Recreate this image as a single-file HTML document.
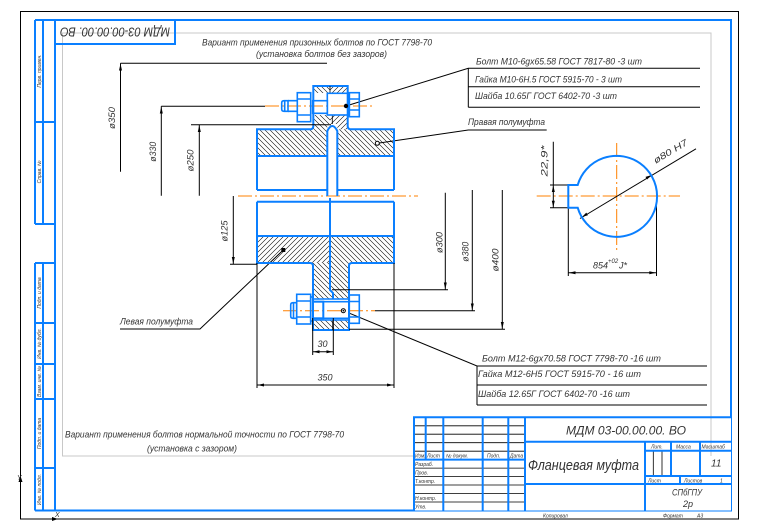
<!DOCTYPE html>
<html><head><meta charset="utf-8">
<style>
html,body{margin:0;padding:0;background:#fff;}
svg{display:block;}
text{font-family:"Liberation Sans",sans-serif;font-style:italic;fill:#333;}
</style></head><body>
<svg width="761" height="525" viewBox="0 0 761 525" xmlns="http://www.w3.org/2000/svg">
<defs>
<pattern id="hb" width="5" height="5" patternUnits="userSpaceOnUse">
<path d="M0,0 L5,5 M-1,4 L1,6 M4,-1 L6,1" stroke="#000" stroke-width="0.55"/>
</pattern>
<pattern id="hf" width="5" height="5" patternUnits="userSpaceOnUse">
<path d="M0,5 L5,0 M-1,1 L1,-1 M4,6 L6,4" stroke="#000" stroke-width="0.55"/>
</pattern>
</defs>
<rect width="761" height="525" fill="#fff"/>

<!-- gray inner frame -->
<rect x="62.5" y="33" width="648.5" height="423" fill="none" stroke="#c8c8c8" stroke-width="1"/>
<!-- outer black frame -->
<path d="M20.5,11.5 H738.5 V519 H20.5 Z" fill="none" stroke="#000" stroke-width="1"/>
<!-- axis marker -->
<path d="M20.5,492 V478" stroke="#000" stroke-width="1"/>
<polygon points="20.5,476 18.5,482 22.5,482" fill="#000"/>
<text x="17" y="480" font-size="7">Y</text>
<polygon points="58,519 52,517 52,521" fill="#000"/>
<text x="55" y="517" font-size="7">X</text>

<!-- blue frame -->
<g fill="none" stroke="#0a7fff" stroke-width="2">
<path d="M35,20 H731 V510.5 H35"/>
<path d="M35,20 V224 M43,20 V224 M55,20 V510.5 M35,122 H55 M35,224 H55"/>
<path d="M35,263 V510.5 M43,263 V510.5 M35,263 H55 M35,323 H55 M35,364 H55 M35,399 H55 M35,468 H55"/>
<rect x="55" y="20" width="120" height="24"/>
</g>
<text transform="translate(115,32) rotate(180)" x="0" y="4.5" font-size="13" text-anchor="middle" textLength="110" lengthAdjust="spacingAndGlyphs">МДМ 03-00.00.00. ВО</text>

<!-- strip labels -->
<g font-size="5" text-anchor="middle">
<text transform="translate(41,71) rotate(-90)">Перв. примен.</text>
<text transform="translate(41,172) rotate(-90)">Справ. №</text>
<text transform="translate(41,293) rotate(-90)">Подп. и дата</text>
<text transform="translate(41,343.5) rotate(-90)">Инв. № дубл.</text>
<text transform="translate(41,381.5) rotate(-90)">Взам. инв. №</text>
<text transform="translate(41,433.5) rotate(-90)">Подп. и дата</text>
<text transform="translate(41,489.5) rotate(-90)">Инв. № подл.</text>
</g>

<!-- title block -->
<rect x="414" y="417.3" width="317" height="93.2" fill="#fff"/>
<line x1="711" y1="417.3" x2="711" y2="456" stroke="#c8c8c8"/>
<g stroke="#000" stroke-width="0.8" fill="none">
<path d="M414,425.8 H525 M414,434.2 H525 M414,442.7 H525 M414,451.2 H525 M414,468.1 H525 M414,476.6 H525 M414,485 H525 M414,493.5 H525 M414,502 H525 M653.3,450.7 V476 M662,450.7 V476"/>
</g>
<g fill="none" stroke="#0a7fff" stroke-width="2">
<path d="M414,510.5 V417.3 H731"/>
<path d="M425.7,417.3 V459.6 M443.3,417.3 V510.5 M482.7,417.3 V510.5 M508.3,417.3 V510.5 M525,417.3 V510.5 M414,459.6 H525"/>
<path d="M525,441.7 H731 M645,441.7 V510.5 M645,450.7 H731 M671,441.7 V476 M700,441.7 V476 M645,476 H731 M680,476 V484 M525,484 H731"/>
</g>
<text x="566" y="434.3" font-size="12" textLength="120" lengthAdjust="spacingAndGlyphs">МДМ 03-00.00.00. ВО</text>
<text x="528" y="470" font-size="15" textLength="111" lengthAdjust="spacingAndGlyphs">Фланцевая муфта</text>
<text x="711" y="466.7" font-size="10">11</text>
<text x="672" y="495.7" font-size="9" textLength="30" lengthAdjust="spacingAndGlyphs">СПбГПУ</text>
<text x="683" y="507" font-size="9">2р</text>
<g font-size="5">
<text x="651" y="448.5">Лит.</text>
<text x="676" y="448.5">Масса</text>
<text x="701.5" y="448.5">Масштаб</text>
<text x="648" y="482.5">Лист</text>
<text x="684" y="482.5">Листов</text>
<text x="720" y="482.5">1</text>
<text x="415" y="457.5">Изм.</text>
<text x="427" y="457.5">Лист</text>
<text x="446" y="457.5">№ докум.</text>
<text x="487" y="457.5">Подп.</text>
<text x="510" y="457.5">Дата</text>
<text x="415" y="466">Разраб.</text>
<text x="415" y="474.5">Пров.</text>
<text x="415" y="483">Т.контр.</text>
<text x="415" y="500">Н.контр.</text>
<text x="415" y="508.5">Утв.</text>
<text x="543" y="517.5">Копировал</text>
<text x="663" y="517.5">Формат</text>
<text x="697" y="517.5">А3</text>
</g>

<!-- captions -->
<g font-size="9">
<text x="202" y="45.5" textLength="230" lengthAdjust="spacingAndGlyphs">Вариант применения призонных болтов по ГОСТ 7798-70</text>
<text x="256" y="57" textLength="131" lengthAdjust="spacingAndGlyphs">(установка болтов без зазоров)</text>
<text x="476" y="64.5" textLength="166" lengthAdjust="spacingAndGlyphs">Болт М10-6gx65.58 ГОСТ 7817-80 -3 шт</text>
<text x="475" y="82.3" textLength="147" lengthAdjust="spacingAndGlyphs">Гайка М10-6Н.5 ГОСТ 5915-70 - 3 шт</text>
<text x="475" y="99" textLength="142" lengthAdjust="spacingAndGlyphs">Шайба 10.65Г ГОСТ 6402-70 -3 шт</text>
<text x="468" y="125" textLength="77" lengthAdjust="spacingAndGlyphs">Правая полумуфта</text>
<text x="120" y="324.5" textLength="73" lengthAdjust="spacingAndGlyphs">Левая полумуфта</text>
<text x="482" y="361.5" textLength="179" lengthAdjust="spacingAndGlyphs">Болт М12-6gx70.58 ГОСТ 7798-70 -16 шт</text>
<text x="478" y="377" textLength="163" lengthAdjust="spacingAndGlyphs">Гайка М12-6Н5 ГОСТ 5915-70 - 16 шт</text>
<text x="478" y="397" textLength="152" lengthAdjust="spacingAndGlyphs">Шайба 12.65Г ГОСТ 6402-70 -16 шт</text>
<text x="65" y="437.5" textLength="279" lengthAdjust="spacingAndGlyphs">Вариант применения болтов нормальной точности по ГОСТ 7798-70</text>
<text x="147" y="451.5" textLength="90" lengthAdjust="spacingAndGlyphs">(установка с зазором)</text>
</g>

<!-- leader shelves / boxes -->
<g stroke="#000" stroke-width="1" fill="none">
<path d="M346,106 L468.3,68.3 H700 M468.3,68.3 V107.3 M468.3,86.7 H700 M468.3,107.3 H700"/>
<path d="M377.3,143.3 L468.3,130 H546.7"/>
<path d="M283.3,250 L200,329 H120"/>
<path d="M343.3,310.7 L477,366 H707 M477,366 V405 M477,385 H707 M477,405 H707"/>
</g>

<!-- hatching -->
<rect x="257" y="129.3" width="70.3" height="26.7" fill="url(#hb)"/>
<rect x="337.3" y="129.3" width="56.7" height="26.7" fill="url(#hb)"/>
<rect x="313.3" y="86" width="16.7" height="43.3" fill="url(#hb)"/>
<rect x="330" y="86" width="17.7" height="43.3" fill="url(#hf)"/>
<rect x="312" y="93" width="38" height="22" fill="#fff"/>
<rect x="327.3" y="124" width="10" height="72" fill="#fff"/>
<rect x="257" y="236" width="73" height="27" fill="url(#hf)"/>
<rect x="330" y="236" width="64" height="27" fill="url(#hb)"/>
<rect x="313" y="263" width="17" height="67" fill="url(#hb)"/>
<rect x="330" y="263" width="19" height="67" fill="url(#hb)"/>
<rect x="312" y="299" width="38" height="21" fill="#fff"/>

<!-- orange axes -->
<g stroke="#ff8000" stroke-width="1" stroke-dasharray="14 3 2 3" fill="none">
<path d="M238,196 H418"/>
<path d="M265,106 H375"/>
<path d="M283,310.7 H375"/>
<path d="M536.7,196 H680"/>
<path d="M616.7,143 V250"/>
</g>

<!-- coupling outlines -->
<g fill="none" stroke="#0a7fff" stroke-width="2">
<path d="M257,190 V129.3 H310 Q313.3,129.3 313.3,126 V86 H347.7 V126 Q347.7,129.3 351,129.3 H394 V190"/>
<path d="M257,156 H327.3 M337.3,156 H394 M257,190 H327.3 M337.3,190 H394"/>
<path d="M257,201.7 H394 M257,236 H394"/>
<path d="M257,201.7 V263 H310 Q313,263 313,266 V330 H349 V266 Q349,263 352,263 H394 V201.7"/>
<path d="M327.3,196 V131 Q332.3,121 337.3,131 V196"/>
<path d="M330,198 V290 L333,293 V299"/>
</g>
<g stroke="#000" stroke-width="0.8" fill="none">
<path d="M330,86 V93 M332.3,115 V124 M332.7,320 V330"/>
</g>

<!-- top bolt -->
<g fill="none" stroke="#0a7fff" stroke-width="1.6">
<path d="M288,100.7 H284 Q281.7,100.7 281.7,103 V109 Q281.7,111.3 284,111.3 H288 Z M284.7,100.7 V111.3"/>
<path d="M288,100.7 H297.3 M288,111.3 H297.3"/>
<rect x="297.3" y="92.7" width="13.4" height="29"/>
<path d="M297.3,99 H310.7 M297.3,115 H310.7"/>
<rect x="312.7" y="100.7" width="14.6" height="12.6"/>
<rect x="327.3" y="93.3" width="22" height="21.7"/>
<rect x="349.3" y="92.7" width="10" height="24"/>
<path d="M349.3,99 H359.3 M349.3,110 H359.3"/>
</g>
<!-- bottom bolt -->
<g fill="none" stroke="#0a7fff" stroke-width="1.6">
<path d="M296.7,302.7 H293 Q290.7,302.7 290.7,305 V316 Q290.7,318.3 293,318.3 H296.7 Z M293.5,302.7 V318.3"/>
<rect x="296.7" y="294.3" width="14" height="29.7"/>
<path d="M296.7,301 H310.7 M296.7,317 H310.7"/>
<rect x="310.7" y="297" width="2.3" height="24"/>
<path d="M313,299 H349 M313,320 H349"/>
<rect x="313" y="301.7" width="36" height="16.6"/>
<rect x="313" y="301.7" width="10.3" height="16.6" stroke-width="2"/>
<rect x="349.3" y="295" width="10" height="28.3"/>
<path d="M349.3,301.5 H359.3 M349.3,317 H359.3"/>
</g>

<!-- markers -->
<circle cx="346" cy="106" r="2.2" fill="#000"/>
<circle cx="377.3" cy="143.3" r="2" fill="#fff" stroke="#000" stroke-width="1"/>
<rect x="281.3" y="248" width="4" height="4" fill="#000"/>
<circle cx="343.3" cy="310.7" r="2" fill="#fff" stroke="#000" stroke-width="1"/>
<circle cx="343.3" cy="310.7" r="0.8" fill="#000"/>

<!-- dimension lines -->
<g stroke="#000" stroke-width="1" fill="none">
<path d="M120.5,63.3 H327 M120.5,63.3 V171.7"/>
<path d="M161.3,106.3 H265 M161.3,106.3 V195.7"/>
<path d="M191,124.7 H331 M199.3,124.7 V195.7"/>
<path d="M230,264.3 H257 M233.3,196 V264.3"/>
<path d="M332,289.7 H448 M445.3,192.7 V289.7"/>
<path d="M375,310.7 H475 M472.3,190 V310.7"/>
<path d="M349,329.3 H505 M502.3,190 V329.3"/>
<path d="M257,263 V388 M394,263 V388 M257,385 H394"/>
<path d="M312.7,318 V355 M333.3,318 V355 M312.7,351.7 H333.3"/>
<path d="M550,185 H568 M550,207.7 H568 M553.3,141.7 V208.3"/>
<path d="M568.3,207.7 V276 M656.5,200 V276 M568.3,272.7 H656.5"/>
<path d="M580,218.5 L696,148.8"/>
</g>
<g fill="#000">
<polygon points="120.5,63.8 119,70.5 122,70.5"/>
<polygon points="161.3,106.8 159.8,113.5 162.8,113.5"/>
<polygon points="199.3,125.2 197.8,132 200.8,132"/>
<polygon points="233.3,263.8 231.8,257 234.8,257"/>
<polygon points="445.3,289.2 443.8,282.5 446.8,282.5"/>
<polygon points="472.3,310.2 470.8,303.5 473.8,303.5"/>
<polygon points="502.3,328.8 500.8,322 503.8,322"/>
<polygon points="257.5,385 264,383.5 264,386.5"/>
<polygon points="393.5,385 387,383.5 387,386.5"/>
<polygon points="313.2,351.7 319.5,350.2 319.5,353.2"/>
<polygon points="332.8,351.7 326.5,350.2 326.5,353.2"/>
<polygon points="553.3,185.5 551.8,192 554.8,192"/>
<polygon points="553.3,207.2 551.8,200.7 554.8,200.7"/>
<polygon points="568.8,272.7 575.5,271.2 575.5,274.2"/>
<polygon points="656,272.7 649.3,271.2 649.3,274.2"/>
<polygon points="582,217 587.9,215.2 586.3,212.6"/>
<polygon points="651.4,175.1 647.1,179.5 645.5,176.9"/>
</g>

<!-- section circle -->
<path d="M577.7,185 A40.5,40.5 0 1 1 577.7,207.7 L568.3,207.7 L568.3,185 Z" fill="none" stroke="#0a7fff" stroke-width="2"/>

<!-- dimension texts -->
<g font-size="9" text-anchor="middle">
<text transform="translate(115,118) rotate(-90)" textLength="22" lengthAdjust="spacingAndGlyphs">ø350</text>
<text transform="translate(156,151.7) rotate(-90)" textLength="20" lengthAdjust="spacingAndGlyphs">ø330</text>
<text transform="translate(193.5,160.5) rotate(-90)" textLength="22" lengthAdjust="spacingAndGlyphs">ø250</text>
<text transform="translate(227.5,231) rotate(-90)" textLength="21" lengthAdjust="spacingAndGlyphs">ø125</text>
<text transform="translate(442.5,242.5) rotate(-90)" textLength="21" lengthAdjust="spacingAndGlyphs">ø300</text>
<text transform="translate(468.5,251.7) rotate(-90)" textLength="20" lengthAdjust="spacingAndGlyphs">ø380</text>
<text transform="translate(498.5,260) rotate(-90)" textLength="23" lengthAdjust="spacingAndGlyphs">ø400</text>
<text transform="translate(547.5,161) rotate(-90)" textLength="31" lengthAdjust="spacingAndGlyphs">22,9*</text>
<text transform="translate(672,154) rotate(-31)" textLength="38" lengthAdjust="spacingAndGlyphs">ø80 H7</text>
<text x="322.5" y="347">30</text>
<text x="325" y="380.5">350</text>
</g>
<text x="593" y="268.5" font-size="9">854</text>
<text x="608" y="263" font-size="6">+02</text>
<text x="619" y="268.5" font-size="9">J*</text>
</svg>
</body></html>
